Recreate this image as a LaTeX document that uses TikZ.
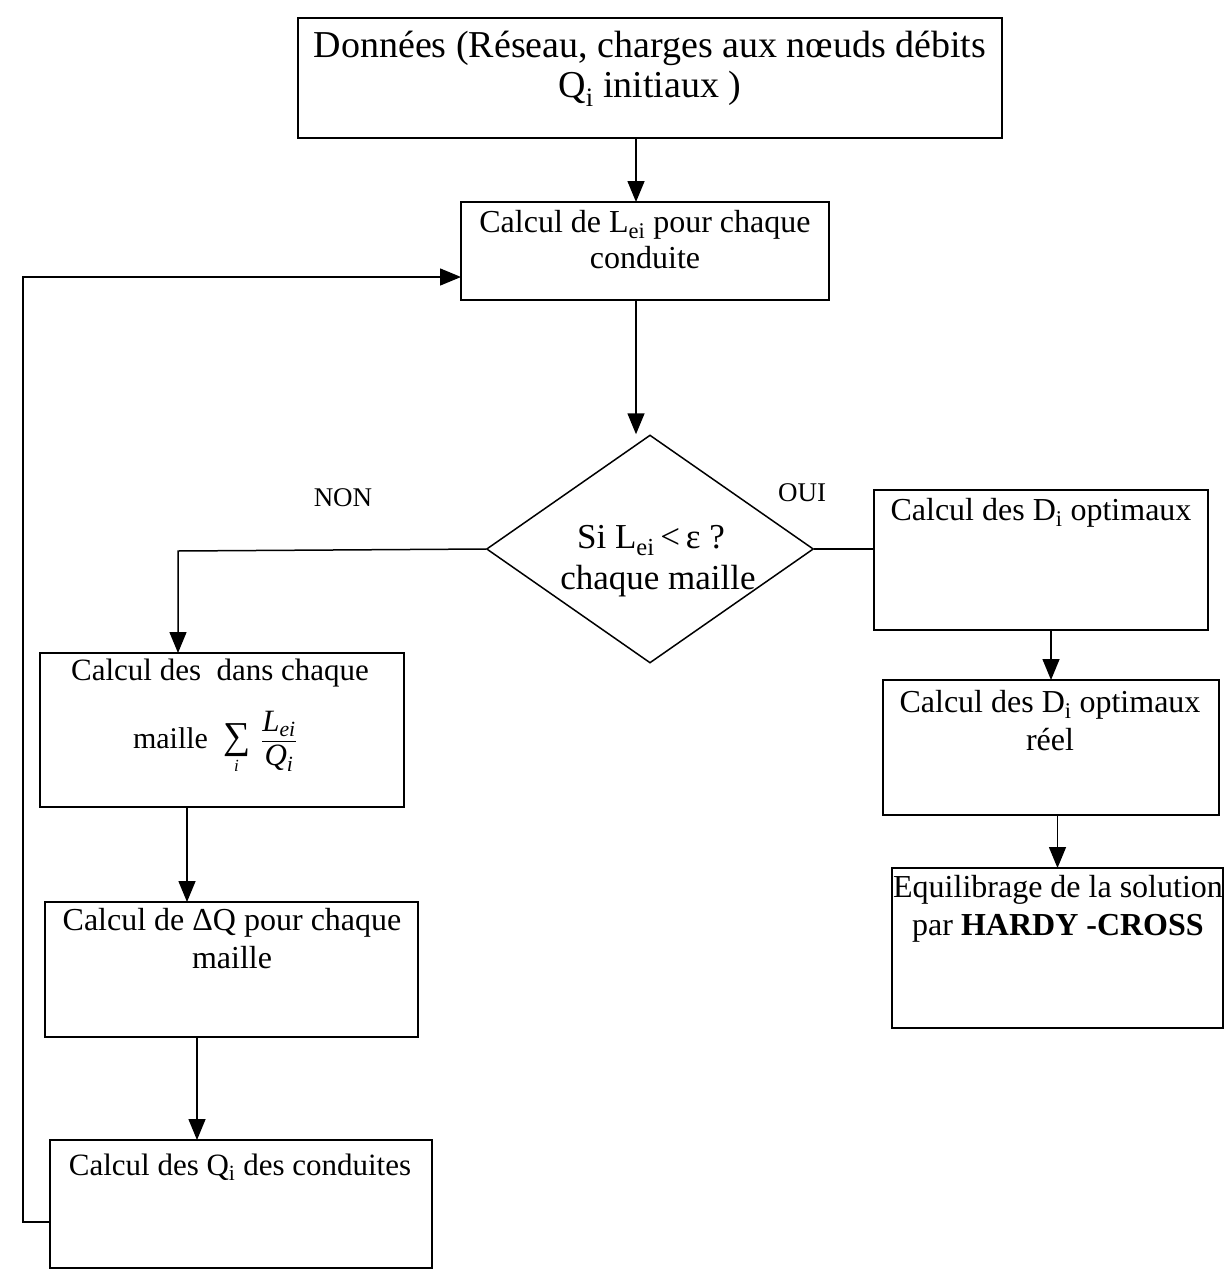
\documentclass[tikz,border=0pt]{standalone}
\usepackage{amsmath}
\usepackage{fontspec}
\setmainfont{Liberation Serif}
\usetikzlibrary{shapes.geometric,arrows.meta}
\newcommand{\sbs}[1]{\textsubscript{#1}}
\newcommand{\fs}[2]{\fontsize{#1}{#2}\selectfont}
\begin{document}
\begin{tikzpicture}[x=1pt,y=-1pt,
  box/.style={draw, line width=1.5pt, inner sep=0pt, outer sep=0pt, anchor=north west},
  txt/.style={inner sep=0pt, anchor=base},
  arr/.style={draw, line width=1.5pt, -{Triangle[length=21pt,width=17pt]}},
  ln/.style={draw, line width=1.5pt}]
\useasboundingbox[fill=white] (0,0) rectangle (1227,1277);

% boxes
\node[box, minimum width=704pt, minimum height=120pt] (b1) at (298,18) {};
\node[box, minimum width=368pt, minimum height=98pt] (b2) at (461,202) {};
\node[draw, line width=1.5pt, diamond, inner sep=0pt, minimum width=327pt, minimum height=228pt] (d) at (650,549) {};
\node[box, minimum width=334pt, minimum height=140pt] (r1) at (874,490) {};
\node[box, minimum width=336pt, minimum height=135pt] (r2) at (883,680) {};
\node[box, minimum width=331pt, minimum height=160pt] (r3) at (892,868) {};
\node[box, minimum width=364pt, minimum height=154pt] (l1) at (40,653) {};
\node[box, minimum width=373pt, minimum height=135pt] (l2) at (45,902) {};
\node[box, minimum width=382pt, minimum height=128pt] (l3) at (50,1140) {};

% texts
\node[txt] (t1a) at (650,57) {\fs{38}{40}Données (Réseau, charges aux nœuds débits};
\node[txt] (t1b) at (650,97) {\fs{38}{40}Q\sbs{i} initiaux )};
\node[txt] (t2a) at (645,232) {\fs{32}{36}Calcul de L\sbs{ei} pour chaque};
\node[txt] (t2b) at (645,268) {\fs{32}{36}conduite};
\node[txt] (tda) at (651,548) {\fs{35}{36}Si L\sbs{ei}\,<\,ε ?};
\node[txt] (tdb) at (658,589) {\fs{35}{36}chaque maille};
\node[txt] (non) at (343,506) {\fs{27}{30}NON};
\node[txt] (oui) at (802,501) {\fs{27}{30}OUI};
\node[txt] (tr1) at (1041,520) {\fs{32}{36}Calcul des D\sbs{i} optimaux};
\node[txt] (tr2a) at (1050,712) {\fs{32}{36}Calcul des D\sbs{i} optimaux};
\node[txt] (tr2b) at (1050,750) {\fs{32}{36}réel};
\node[txt] (tr3a) at (1058,897) {\fs{32}{36}Equilibrage de la solution};
\node[txt] (tr3b) at (1058,935) {\fs{32}{36}par \textbf{HARDY -CROSS}};
\node[txt] (tl1a) at (220,680) {\fs{31}{36}Calcul des \ dans chaque};
\node[txt] (tl1b) at (215,748) {\fs{30}{36}maille \ $\mathop{\hbox{\fs{38}{38}∑}}\limits_{\hbox{\fs{17}{17}\textit{i}}}\;\dfrac{\hbox{\fs{31}{31}\textit{L}\textsubscript{\textit{ei}}}}{\hbox{\fs{31}{31}\textit{Q}\textsubscript{\textit{i}}}}$};
\node[txt] (tl2a) at (232,930) {\fs{32}{36}Calcul de ΔQ pour chaque};
\node[txt] (tl2b) at (232,968) {\fs{32}{36}maille};
\node[txt] (tl3) at (240,1175) {\fs{31}{36}Calcul des Q\sbs{i} des conduites};

% connectors
\draw[arr] (b1.south -| 636,0) -- (b2.north -| 636,0);
\draw[arr] (b2.south -| 636,0) -- (d.north -| 636,0);
\draw[ln] (d.east) -- (d.east -| r1.west);
\draw[arr] (r2.north |- r1.south) -- (r2.north);
\draw[arr] (r3.north |- r2.south) -- (r3.north);
\coordinate (nonC) at (178,551);
\draw[arr] (d.west) -- (nonC) -- (nonC |- l1.north);
\draw[arr] (l1.south -| 187,0) -- (l2.north -| 187,0);
\draw[arr] (l2.south -| 197,0) -- (l3.north -| 197,0);
\coordinate (fbA) at (23,1222);
\coordinate (fbB) at (23,277);
\draw[arr] (l3.west |- fbA) -- (fbA) -- (fbB) -- (fbB -| b2.west);
\end{tikzpicture}
\end{document}
